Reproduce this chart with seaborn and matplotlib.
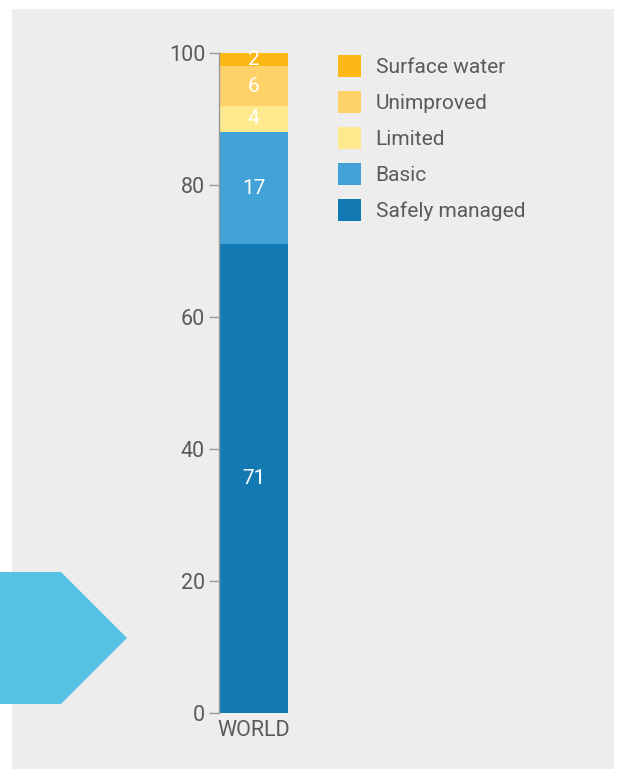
import matplotlib
matplotlib.use("Agg")
import matplotlib.pyplot as plt
import matplotlib.patches as mpatches
import seaborn as sns
import pandas as pd

sns.set_style("white")
plt.rcParams['font.family'] = ['Roboto', 'DejaVu Sans']

# data (percent of world population, drinking water service levels)
region = "WORLD"
levels = ["Safely managed", "Basic", "Limited", "Unimproved", "Surface water"]
values = [71, 17, 4, 6, 2]
colors = ["#1379b3", "#42a1d6", "#ffe98f", "#fed169", "#fdb815"]

df = pd.DataFrame({"level": levels, "value": values, "region": region})
df["top"] = df["value"].cumsum()
df["mid"] = df["top"] - df["value"] / 2

fig = plt.figure(figsize=(6.19, 7.69), dpi=100, facecolor="white")
# grey panel behind everything
fig.patches.append(mpatches.Rectangle((12 / 619, 0), 602 / 619, 760 / 769,
                                      transform=fig.transFigure,
                                      facecolor="#ededed", edgecolor="none", zorder=-10))
# light blue arrow on the left
arrow = mpatches.Polygon([(0, 572), (61, 572), (127, 638), (61, 704), (0, 704)],
                         closed=True, facecolor="#56c2e3", edgecolor="none")
arrow.set_transform(matplotlib.transforms.Affine2D().scale(1 / 619, -1 / 769).translate(0, 1) + fig.transFigure)
fig.patches.append(arrow)

ax = fig.add_axes([219 / 619, 56 / 769, 69 / 619, 660 / 769])
ax.set_facecolor("none")

# stacked bar: draw cumulative tops from tallest to shortest
for i in range(len(levels) - 1, -1, -1):
    sns.barplot(x=[region], y=[df["top"][i]], color=colors[i], width=1,
                saturation=1, ax=ax, edgecolor="none")

for i in range(len(levels)):
    ax.text(0, df["mid"][i], str(values[i]), ha="center", va="center",
            color="white", fontsize=15)

ax.set_xlim(-0.5, 0.5)
ax.set_ylim(0, 100)
ax.set_yticks([0, 20, 40, 60, 80, 100])
ax.set_ylabel("")
ax.set_xlabel("")
for s in ["top", "right", "bottom"]:
    ax.spines[s].set_visible(False)
ax.spines["left"].set_color("#999999")
ax.spines["left"].set_linewidth(1)
ax.tick_params(axis="y", length=7, width=1, color="#999999", pad=3,
               labelsize=15.5, labelcolor="#5a5a5a", left=True)
ax.tick_params(axis="x", length=0, pad=5, labelsize=15.5, labelcolor="#5a5a5a")

handles = [mpatches.Patch(facecolor=colors[i], edgecolor="none", label=levels[i])
           for i in range(len(levels) - 1, -1, -1)]
leg = fig.legend(handles=handles, loc="upper left", bbox_to_anchor=(338 / 619, 714 / 769),
                 frameon=False, fontsize=15, borderpad=0, borderaxespad=0,
                 handlelength=1.1, handleheight=1.25, handletextpad=0.7, labelspacing=0.67)
for t in leg.get_texts():
    t.set_color("#5a5a5a")

fig.savefig("out.png", dpi=100, facecolor="white")
